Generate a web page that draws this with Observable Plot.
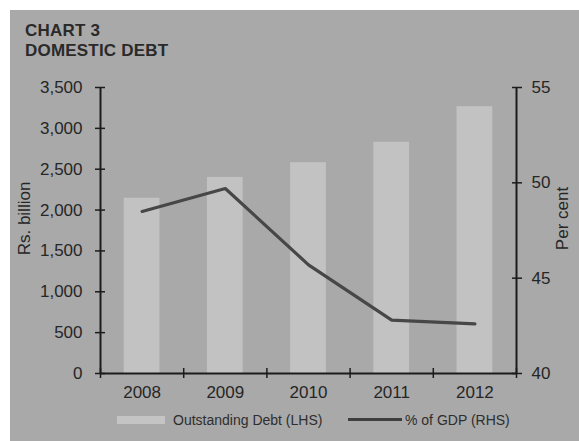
<!DOCTYPE html>
<html>
<head>
<meta charset="utf-8">
<script src="https://cdn.jsdelivr.net/npm/d3@7"></script>
<script src="https://cdn.jsdelivr.net/npm/@observablehq/plot@0.6"></script>
<style>
  html, body { margin: 0; padding: 0; background: #ffffff; }
  body { width: 579px; height: 441px; position: relative; overflow: hidden; font-family: "Liberation Sans", Arial, sans-serif; }
  #panel { position: absolute; left: 10px; top: 10px; width: 569px; height: 431px; background: #a9a9a9; }
  #title { position: absolute; left: 15px; top: 11px; font-weight: bold; font-size: 17px; letter-spacing: 0.2px; line-height: 20px; color: #2a2a2a; }
  #chart { position: absolute; left: 0; top: 62px; }
  .leg { position: absolute; font-size: 14px; color: #2e2e2e; line-height: 16px; }
  .sw { position: absolute; }
</style>
</head>
<body>
<div id="panel">
  <div id="title">CHART 3<br>DOMESTIC DEBT</div>
  <div id="chart"></div>
  <div class="sw" id="sw1" style="left:107px; top:406px; width:48px; height:8px; background:#c4c4c4;"></div>
  <div class="leg" id="lg1" style="left:163px; top:402px;"></div>
  <div class="sw" id="sw2" style="left:338px; top:408px; width:54px; height:3px; background:#3e3e3e;"></div>
  <div class="leg" id="lg2" style="left:395px; top:402px;"></div>
</div>
<script>
const years = [2008, 2009, 2010, 2011, 2012];
const debt = [2145, 2400, 2580, 2830, 3265];        // Rs. billion (LHS)
const gdpPct = [48.5, 49.7, 45.7, 42.8, 42.6];       // % of GDP (RHS)
const leftTicks = [0, 500, 1000, 1500, 2000, 2500, 3000, 3500];
const rightTicks = [40, 45, 50, 55];
const seriesNames = ["Outstanding Debt (LHS)", "% of GDP (RHS)"];
const leftLabel = "Rs. billion";
const rightLabel = "Per cent";

const lhsMax = 3500, rhsMin = 40, rhsMax = 55;
const toLhs = p => (p - rhsMin) / (rhsMax - rhsMin) * lhsMax;
const toRhs = v => v / lhsMax * (rhsMax - rhsMin) + rhsMin;

const data = years.map((y, i) => ({year: y, debt: debt[i], gdp: gdpPct[i]}));
const bounds = years.map(y => y - 0.5).concat([years[years.length - 1] + 0.5]);

const ink = "#262626";
const axisColor = "#1c1c1c";

const chart = Plot.plot({
  width: 569,
  height: 330,
  marginTop: 15,
  marginBottom: 29,
  marginLeft: 90,
  marginRight: 63,
  style: {background: "transparent", fontFamily: "'Liberation Sans', Arial, sans-serif", fontSize: "17px", color: ink},
  x: {domain: [years[0] - 0.5, years[years.length - 1] + 0.5], axis: null},
  y: {domain: [0, lhsMax], nice: false, axis: null},
  marks: [
    Plot.rectY(data, {x1: d => d.year - 0.215, x2: d => d.year + 0.215, y1: 0, y2: "debt", fill: "#c2c2c2"}),
    Plot.line(data, {x: "year", y: d => toLhs(d.gdp), stroke: "#474747", strokeWidth: 3.2, strokeLinejoin: "miter"}),
    // axis lines
    Plot.ruleY([0], {stroke: axisColor, strokeWidth: 2}),
    Plot.ruleX([bounds[0], bounds[bounds.length - 1]], {y1: 0, y2: lhsMax, stroke: axisColor, strokeWidth: 2}),
    // left axis
    Plot.axisY(leftTicks, {anchor: "left", tickSize: 10, dx: 5, tickPadding: 13, tickFormat: d3.format(","), stroke: axisColor, strokeWidth: 1.5, fill: ink, fontSize: 17, label: null}),
    // right axis
    Plot.axisY(rightTicks.map(toLhs), {anchor: "right", tickSize: 10, dx: -5, tickPadding: 10, tickFormat: v => String(Math.round(toRhs(v))), stroke: axisColor, strokeWidth: 1.5, fill: ink, fontSize: 17, label: null}),
    // x axis: boundary ticks, then centred labels
    Plot.axisX(bounds, {anchor: "bottom", tickSize: 10, dy: -5, text: null, stroke: axisColor, strokeWidth: 1.5, label: null}),
    Plot.axisX(years, {anchor: "bottom", tickSize: 0, tickPadding: 12, tickFormat: d => String(d), fill: ink, fontSize: 17, label: null}),
    // axis titles
    Plot.text([leftLabel], {frameAnchor: "left", textAnchor: "middle", dx: -76, dy: -12, rotate: -90, fill: ink, fontSize: 17}),
    Plot.text([rightLabel], {frameAnchor: "right", textAnchor: "middle", dx: 46, dy: -12, rotate: -90, fill: ink, fontSize: 17})
  ]
});
document.getElementById("chart").appendChild(chart);
document.getElementById("lg1").textContent = seriesNames[0];
document.getElementById("lg2").textContent = seriesNames[1];
</script>
</body>
</html>
